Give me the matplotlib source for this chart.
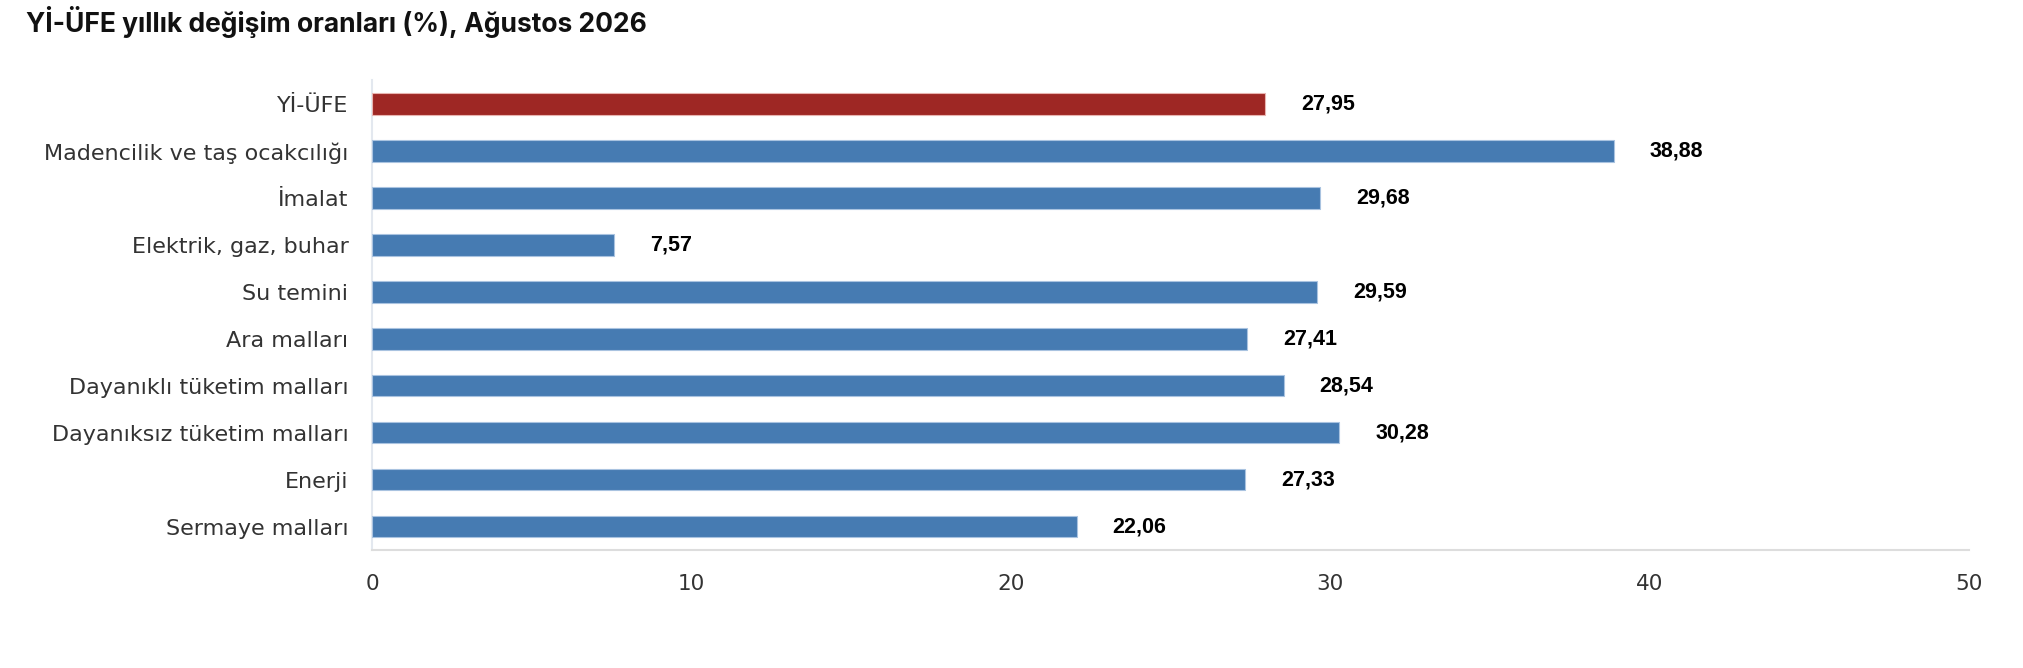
import matplotlib
matplotlib.use("Agg")
import matplotlib.pyplot as plt

categories = ["Yİ-ÜFE", "Madencilik ve taş ocakcılığı", "İmalat", "Elektrik, gaz, buhar",
              "Su temini", "Ara malları", "Dayanıklı tüketim malları",
              "Dayanıksız tüketim malları", "Enerji", "Sermaye malları"]
values = [27.95, 38.88, 29.68, 7.57, 29.59, 27.41, 28.54, 30.28, 27.33, 22.06]
labels = ["27,95", "38,88", "29,68", "7,57", "29,59", "27,41", "28,54", "30,28", "27,33", "22,06"]
x_ticks = [0, 10, 20, 30, 40, 50]
title = "Yİ-ÜFE yıllık değişim oranları (%), Ağustos 2026"

RED = "#9e2724"
BLUE = "#467bb2"
colors = [RED] + [BLUE] * (len(categories) - 1)
edges = ["#e8b4b0"] + ["#a9c3e0"] * (len(categories) - 1)

plt.rcParams['font.family'] = ['DejaVu Sans']

fig = plt.figure(figsize=(20.24, 6.68), dpi=100)
ax = fig.add_axes([0.1838, 0.1766, 0.789, 0.703])

y = list(range(len(categories)))
ax.barh(y, values, height=0.46, color=colors, edgecolor=edges, linewidth=0.8, zorder=3)
ax.set_ylim(len(categories) - 0.5, -0.5)
ax.set_xlim(0, 50)
ax.set_xticks(x_ticks)
ax.set_xticklabels([str(t) for t in x_ticks])
ax.set_yticks(y)
ax.set_yticklabels(categories)

ax.tick_params(axis='y', length=0, pad=17, labelsize=16, labelcolor="#333333")
ax.tick_params(axis='x', length=0, pad=17, labelsize=15.5, labelcolor="#333333")

for s in ["top", "right"]:
    ax.spines[s].set_visible(False)
ax.spines["left"].set_color("#e3e8ef")
ax.spines["left"].set_linewidth(1.5)
ax.spines["bottom"].set_color("#dddddd")
ax.spines["bottom"].set_linewidth(1.5)

for yi, v, t in zip(y, values, labels):
    ax.annotate(t, xy=(v, yi), xytext=(26, 0), textcoords="offset points",
                va="center", ha="left", fontsize=15.5, fontweight="bold",
                color="#000000", family=['Liberation Sans', 'DejaVu Sans'])

fig.text(0.013, 0.967, title, fontsize=19, fontweight="bold", color="#111111",
         va="center", ha="left", family=['Inter', 'DejaVu Sans'])

fig.savefig("out.png", dpi=100, facecolor="white")
